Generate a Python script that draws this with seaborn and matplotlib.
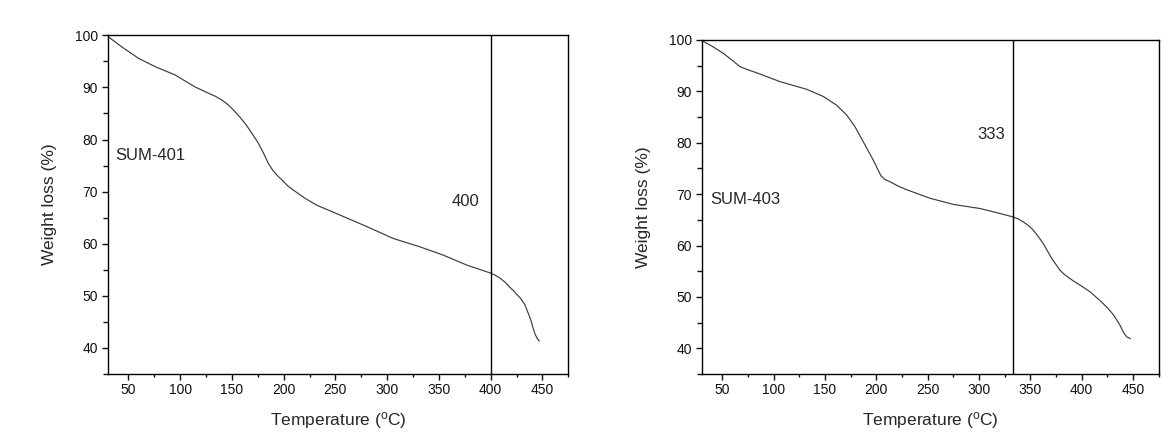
import matplotlib
matplotlib.use("Agg")
import matplotlib.pyplot as plt
from matplotlib.ticker import MultipleLocator
import seaborn as sns
import pandas as pd

# SUM-401 curve
temp_401 = [30, 43.5, 59.6, 75.7, 95, 114.3, 127.2, 134, 140.1, 145, 149.8, 156, 162.7, 169, 175.5,
            180.5, 185.2, 189.5, 193.3, 197, 200, 204, 209.3, 220, 231.9, 254.4, 280.2, 306, 331.7,
            354.3, 376.9, 399.4, 404, 409, 414, 418.7, 422, 425, 428, 430, 433, 435, 437, 439,
            441, 443, 445, 447]
wt_401 = [99.8, 97.8, 95.6, 94.0, 92.4, 90.1, 88.9, 88.3, 87.6, 86.9, 86.0, 84.7, 83.1, 81.3, 79.3,
          77.4, 75.4, 74.1, 73.2, 72.5, 71.9, 71.1, 70.3, 68.8, 67.4, 65.5, 63.3, 61.0, 59.4,
          57.8, 55.9, 54.4, 54.0, 53.4, 52.6, 51.6, 51.0, 50.3, 49.7, 49.2, 48.3, 47.3, 46.3, 45.2,
          43.8, 42.6, 41.8, 41.3]

# SUM-403 curve
temp_403 = [30, 40, 51, 60, 67.3, 75, 83.6, 106.2, 132.2, 148.4, 161.4, 171.2, 179.3, 187.3, 197.1,
            201, 204.5, 208, 213.4, 222, 230.4, 252.3, 275, 301, 317.2, 332.4, 338, 343.1, 348,
            352.9, 357.5, 362.6, 366.5, 370.8, 375, 378.9, 383, 387, 392, 398.4, 408.1, 417.8,
            425, 431, 437, 441, 444, 447.5]
wt_403 = [99.9, 98.8, 97.4, 96.0, 94.8, 94.2, 93.6, 91.9, 90.4, 89.0, 87.3, 85.4, 83.1, 80.2, 76.6,
          75.0, 73.6, 72.9, 72.4, 71.5, 70.8, 69.2, 68.0, 67.2, 66.4, 65.6, 65.2, 64.6, 63.9,
          63.0, 61.8, 60.4, 59.0, 57.5, 56.3, 55.2, 54.4, 53.8, 53.1, 52.3, 51.0, 49.3,
          47.9, 46.5, 44.6, 43.0, 42.2, 41.9]

panels = [
    dict(x=temp_401, y=wt_401, name="SUM-401", mark=400, name_xy=(37.7, 76.9), mark_xy=(376, 68.1)),
    dict(x=temp_403, y=wt_403, name="SUM-403", mark=333, name_xy=(38.1, 69.0), mark_xy=(312, 81.6)),
]

sns.set_theme(style="ticks")
plt.rcParams['font.family'] = ['Liberation Sans', 'DejaVu Sans']
plt.rcParams['mathtext.fontset'] = 'custom'
plt.rcParams['mathtext.rm'] = 'Liberation Sans'
plt.rcParams['mathtext.it'] = 'Liberation Sans:italic'

fig = plt.figure(figsize=(11.73, 4.44), dpi=100)
rects = [[0.0918, 0.1577, 0.3927, 0.7628], [0.5982, 0.1577, 0.3896, 0.7523]]

for rect, p in zip(rects, panels):
    ax = fig.add_axes(rect)
    df = pd.DataFrame({"Temperature": p["x"], "Weight": p["y"]})
    sns.lineplot(data=df, x="Temperature", y="Weight", ax=ax, sort=False,
                 color="#3c3c3c", linewidth=0.85)
    ax.axvline(p["mark"], color="black", linewidth=1.0)
    ax.set_xlim(30, 475)
    ax.set_ylim(35, 100)
    ax.set_xticks([50, 100, 150, 200, 250, 300, 350, 400, 450])
    ax.set_yticks([40, 50, 60, 70, 80, 90, 100])
    ax.xaxis.set_minor_locator(MultipleLocator(25))
    ax.yaxis.set_minor_locator(MultipleLocator(5))
    ax.tick_params(which="major", direction="out", width=1, labelsize=10,
                   colors="#111111", pad=2.5)
    ax.tick_params(axis="x", which="major", length=4)
    ax.tick_params(axis="y", which="major", length=4.5)
    ax.tick_params(axis="x", which="minor", direction="out", length=2.2, width=1, colors="#111111")
    ax.tick_params(axis="y", which="minor", direction="out", length=3.5, width=1, colors="#111111")
    ax.tick_params(axis="both", which="both", top=False, right=False)
    for s in ax.spines.values():
        s.set_visible(True)
        s.set_color("black")
        s.set_linewidth(1.0)
    ax.set_xlabel(r"Temperature ($^\mathrm{o}$C)", fontsize=12.5, labelpad=9)
    ax.set_ylabel("Weight loss (%)", fontsize=12.5, labelpad=13)
    ax.text(p["name_xy"][0], p["name_xy"][1], p["name"], fontsize=12, ha="left", va="center")
    ax.text(p["mark_xy"][0], p["mark_xy"][1], str(p["mark"]), fontsize=12, ha="center", va="center")
    ax.set_facecolor("white")

fig.savefig("out.png", dpi=100, facecolor="white")
